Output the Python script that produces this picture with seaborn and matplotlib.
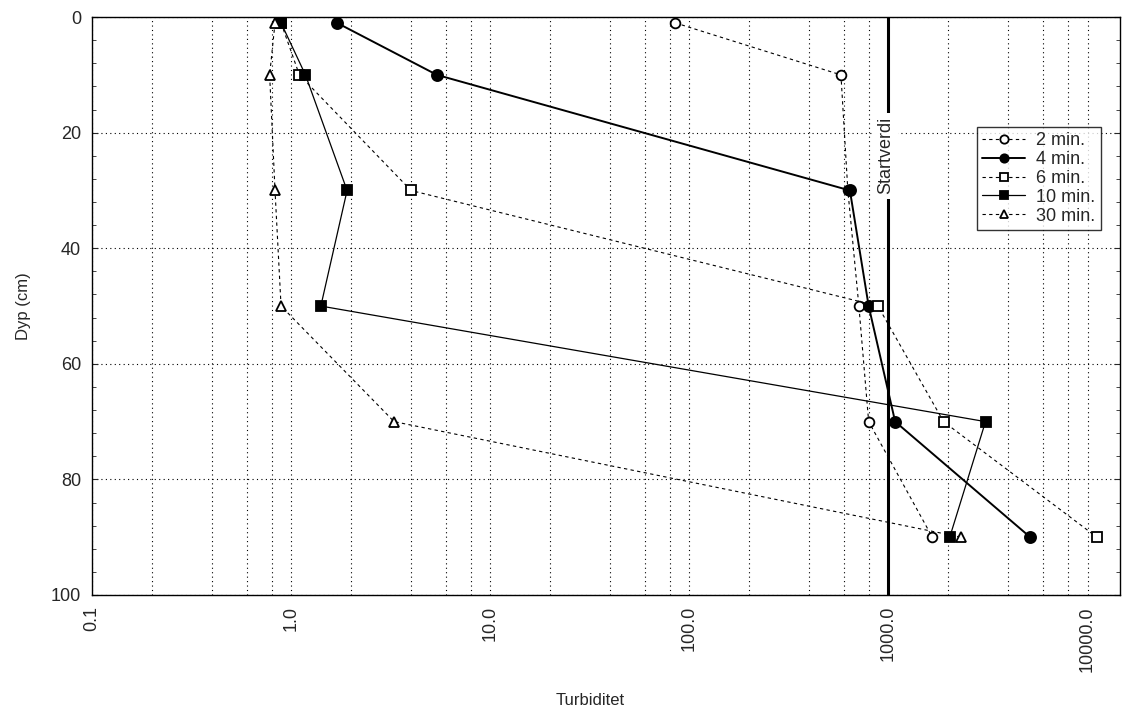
import numpy as np
import pandas as pd
import matplotlib
matplotlib.use("Agg")
import matplotlib.pyplot as plt
import matplotlib.ticker as mticker
import matplotlib.transforms as mtransforms
import seaborn as sns

# -------------------------
# Data
# -------------------------
depth = [1, 10, 30, 50, 70, 90]
turb_2min = [85, 577, 625, 710, 795, 1660]
turb_4min = [1.70, 5.4, 640, 795, 1080, 5150]
turb_6min = [0.89, 1.10, 4.0, 885, 1890, 11130]
turb_10min = [0.89, 1.18, 1.91, 1.41, 3070, 2030]
turb_30min = [0.83, 0.78, 0.83, 0.89, 3.29, 2320]
series_labels = ["2 min.", "4 min.", "6 min.", "10 min.", "30 min."]
startverdi = 1000
x_ticks = [0.1, 1, 10, 100, 1000, 10000]
x_ticklabels = ["0.1", "1.0", "10.0", "100.0", "1000.0", "10000.0"]
y_ticks = [0, 20, 40, 60, 80, 100]

# -------------------------
# Style
# -------------------------
sns.set_style("white")
plt.rcParams["font.family"] = ["Liberation Sans", "DejaVu Sans"]

fig = plt.figure(figsize=(11.22, 7.13), dpi=100)
ax = fig.add_axes([0.082, 0.1655, 0.916, 0.8105])

styles = [
    dict(marker="o", mfc="white", ls=(0, (3, 3)), lw=0.8, ms=7),
    dict(marker="o", mfc="black", ls="-", lw=1.4, ms=8),
    dict(marker="s", mfc="white", ls=(0, (3, 3)), lw=0.8, ms=7),
    dict(marker="s", mfc="black", ls="-", lw=0.9, ms=7.5),
    dict(marker="^", mfc="white", ls=(0, (3, 3)), lw=0.8, ms=6.5),
]
values = [turb_2min, turb_4min, turb_6min, turb_10min, turb_30min]

for label, vals, st in zip(series_labels, values, styles):
    df = pd.DataFrame({"Turbiditet": vals, "Dyp": depth})
    sns.lineplot(data=df, x="Turbiditet", y="Dyp", sort=False, estimator=None,
                 color="black", marker=st["marker"], markerfacecolor=st["mfc"],
                 markeredgecolor="black", markeredgewidth=1.3,
                 markersize=st["ms"], linestyle=st["ls"], linewidth=st["lw"],
                 label=label, ax=ax)

# reference line with label
ax.axvline(startverdi, color="black", lw=2.2, zorder=1)
shift = mtransforms.offset_copy(ax.transData, fig=fig, x=-3, y=0, units="dots")
ax.text(startverdi, 24, "Startverdi", rotation=90, ha="center", va="center",
        fontsize=13, transform=shift,
        bbox=dict(facecolor="white", edgecolor="none", pad=3), zorder=2)

# -------------------------
# Axes
# -------------------------
ax.set_xscale("log")
ax.set_xlim(0.1, 14500)
ax.set_ylim(100, 0)
ax.set_xticks(x_ticks)
ax.set_xticklabels(x_ticklabels, rotation=90, fontsize=13)
ax.xaxis.set_minor_locator(mticker.LogLocator(base=10, subs=(2, 4, 6, 8)))
ax.xaxis.set_minor_formatter(mticker.NullFormatter())
ax.set_yticks(y_ticks)
ax.set_yticklabels([str(v) for v in y_ticks], fontsize=13)
ax.yaxis.set_minor_locator(mticker.MultipleLocator(4))

ax.tick_params(axis="x", which="both", length=0, pad=8)
ax.tick_params(axis="y", which="major", direction="in", length=4, left=True, right=True, pad=8)
ax.tick_params(axis="y", which="minor", direction="in", length=3, left=True, right=True)

ax.grid(True, which="both", axis="x", color="black", ls=(0, (1, 3)), lw=0.8)
ax.grid(True, which="major", axis="y", color="black", ls=(0, (1, 3)), lw=0.8)
for sp in ax.spines.values():
    sp.set_color("black")
    sp.set_linewidth(1.0)

ax.set_xlabel("Turbiditet", fontsize=12)
ax.xaxis.set_label_coords(0.4844, -0.17)
ax.set_ylabel("Dyp (cm)", fontsize=12, labelpad=14)

leg = ax.legend(loc="upper right", bbox_to_anchor=(0.9815, 0.81), borderaxespad=0,
                fontsize=13, frameon=True, fancybox=False, handlelength=2.4,
                handletextpad=0.6, labelspacing=0.1, borderpad=0.3)
leg.get_frame().set_edgecolor("black")
leg.get_frame().set_linewidth(1.0)
for h in leg.get_lines():
    h.set_markersize(6)

fig.savefig("out.png", dpi=100)
